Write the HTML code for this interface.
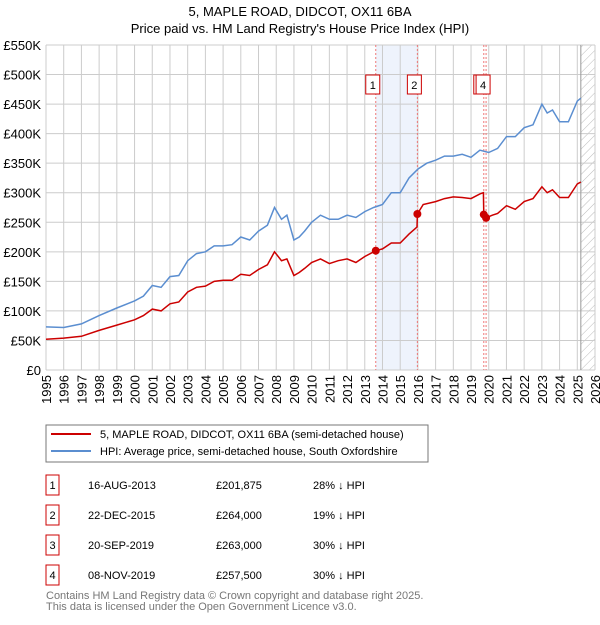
<!DOCTYPE html>
<html><head><meta charset="utf-8"><style>
body{margin:0;background:#fff;font-family:"Liberation Sans","DejaVu Sans",sans-serif;}
svg text{font-family:"Liberation Sans","DejaVu Sans",sans-serif;}
</style></head><body>
<svg id="c" width="600" height="620" xmlns="http://www.w3.org/2000/svg">
<text x="300" y="16" text-anchor="middle" font-size="13">5, MAPLE ROAD, DIDCOT, OX11 6BA</text>
<text x="300" y="33" text-anchor="middle" font-size="13">Price paid vs. HM Land Registry's House Price Index (HPI)</text>
<g id="plot"></g>
<rect x="46" y="425" width="382" height="37" fill="#fff" stroke="#777"/>
<line x1="51" y1="434" x2="91" y2="434" stroke="#cc0000" stroke-width="2"/>
<text x="100" y="438" font-size="11">5, MAPLE ROAD, DIDCOT, OX11 6BA (semi-detached house)</text>
<line x1="51" y1="451" x2="91" y2="451" stroke="#5b8ed0" stroke-width="2"/>
<text x="100" y="455" font-size="11">HPI: Average price, semi-detached house, South Oxfordshire</text>
<g id="table" font-size="11"></g>
<text x="46" y="599" font-size="11" fill="#777">Contains HM Land Registry data © Crown copyright and database right 2025.</text>
<text x="46" y="610" font-size="11" fill="#777">This data is licensed under the Open Government Licence v3.0.</text>
</svg>
<script>
const yTicks=[0,50,100,150,200,250,300,350,400,450,500,550];
const years=[1995,1996,1997,1998,1999,2000,2001,2002,2003,2004,2005,2006,2007,2008,2009,2010,2011,2012,2013,2014,2015,2016,2017,2018,2019,2020,2021,2022,2023,2024,2025,2026];
const hpiT=[1995,1996,1997,1998,1999,2000,2000.5,2001,2001.5,2002,2002.5,2003,2003.5,2004,2004.5,2005,2005.5,2006,2006.5,2007,2007.5,2007.9,2008.3,2008.6,2009,2009.3,2009.6,2010,2010.5,2011,2011.5,2012,2012.5,2013,2013.5,2014,2014.5,2015,2015.5,2016,2016.5,2017,2017.5,2018,2018.5,2019,2019.5,2020,2020.5,2021,2021.5,2022,2022.5,2023,2023.3,2023.6,2024,2024.5,2025,2025.2];
const hpiV=[73,72,78,92,105,117,125,143,140,158,160,185,197,200,210,210,212,225,220,235,245,275,255,262,220,225,235,250,262,255,255,262,258,268,275,280,300,300,325,340,350,355,362,362,365,360,372,368,375,395,395,410,415,450,435,440,420,420,455,460];
const propT=[1995,1996,1997,1998,1999,2000,2000.5,2001,2001.5,2002,2002.5,2003,2003.5,2004,2004.5,2005,2005.5,2006,2006.5,2007,2007.5,2007.9,2008.3,2008.6,2009,2009.3,2009.6,2010,2010.5,2011,2011.5,2012,2012.5,2013,2013.62,2014,2014.5,2015,2015.5,2015.95,2015.97,2016.3,2017,2017.5,2018,2018.5,2019,2019.5,2019.7,2019.72,2019.85,2020.2,2020.5,2021,2021.5,2022,2022.5,2023,2023.3,2023.6,2024,2024.5,2025,2025.2];
const propV=[52,54,57,67,76,85,92,103,100,112,115,132,140,142,150,152,152,162,160,170,178,200,185,188,160,165,172,182,188,180,185,188,182,192,201.9,205,215,215,230,242,264,280,285,290,293,292,290,298,300,263,257.5,262,265,278,272,285,290,310,300,305,292,292,315,318];
const saleLabels=["1","2","3","4"];
const saleT=[2013.62,2015.97,2019.72,2019.85];
const saleV=[201.875,264,263,257.5];
const saleDates=["16-AUG-2013","22-DEC-2015","20-SEP-2019","08-NOV-2019"];
const salePrices=["£201,875","£264,000","£263,000","£257,500"];
const saleDiff=["28% ↓ HPI","19% ↓ HPI","30% ↓ HPI","30% ↓ HPI"];
const NS="http://www.w3.org/2000/svg";
const L=46,R=595,T=45,B=370;
const X=t=>L+(t-1995)/(2026-1995)*(R-L);
const Y=v=>B-v/550*(B-T);
function mk(tag,attrs,parent){const e=document.createElementNS(NS,tag);for(const k in attrs)e.setAttribute(k,attrs[k]);parent.appendChild(e);return e;}
const g=document.getElementById('plot');
let sh=mk('rect',{x:X(saleT[0]),y:T,width:X(saleT[1])-X(saleT[0]),height:B-T,fill:'#eef3fc'},g);


const defs=mk('defs',{},g);
const pat=mk('pattern',{id:'h',width:6,height:6,patternUnits:'userSpaceOnUse',patternTransform:'rotate(45)'},defs);
mk('line',{x1:0,y1:0,x2:0,y2:6,stroke:'#bbb','stroke-width':1},pat);
let ht=mk('rect',{x:X(2025.2),y:T,width:R-X(2025.2),height:B-T,fill:'url(#h)'},g);


yTicks.forEach(v=>{
  let l=mk('line',{x1:L,x2:R,y1:Y(v),y2:Y(v),stroke:'#ccc'},g);
  
  
  let t=mk('text',{x:L-5,y:Y(v)+5,'text-anchor':'end','font-size':13},g);
  t.textContent=v===0?'£0':'£'+v+'K';
  
  
});
years.forEach(yr=>{
  let l=mk('line',{x1:X(yr),x2:X(yr),y1:T,y2:B,stroke:'#ccc'},g);
  
  
  let t=mk('text',{x:0,y:0,'text-anchor':'end','font-size':13,transform:`translate(${X(yr)+5},${B+5}) rotate(-90)`},g);
  t.textContent=yr;
  
  
});
let ax=mk('line',{x1:X(2025.2),x2:X(2025.2),y1:T,y2:B,stroke:'#999'},g);


saleT.forEach((t,i)=>{
  let l=mk('line',{x1:X(t),x2:X(t),y1:T,y2:B,stroke:'#ee7777','stroke-dasharray':'2,2'},g);
  
  
});
function path(ts,vs,col,name){
  let d=ts.map((t,i)=>(i?'L':'M')+X(t).toFixed(1)+','+Y(vs[i]).toFixed(1)).join('');
  let p=mk('path',{d:d,fill:'none',stroke:col,'stroke-width':1.5},g);
  
  
}
path(hpiT,hpiV,'#5b8ed0','hpi-line');
path(propT,propV,'#cc0000','property-line');
saleT.forEach((t,i)=>{
  let c=mk('circle',{cx:X(t),cy:Y(saleV[i]),r:4,fill:'#cc0000'},g);
  
  
});
[0,1,2,3].forEach(i=>{
  let bx=X(saleT[i])-10;
  let r=mk('rect',{x:bx,y:75,width:14,height:19,fill:'#fff',stroke:'#cc0000'},g);
  
  
  let t=mk('text',{x:bx+7,y:89,'text-anchor':'middle','font-size':11},g);
  t.textContent=saleLabels[i];
  
  
});
const tb=document.getElementById('table');
saleLabels.forEach((s,i)=>{
  const y=475+i*30;
  let r=mk('rect',{x:46,y:y,width:13,height:20,fill:'#fff',stroke:'#cc0000'},tb);
  
  
  let vals=[[52.5,s,'middle'],[88,saleDates[i],'start'],[216,salePrices[i],'start'],[313,saleDiff[i],'start']];
  vals.forEach(v=>{
    let t=mk('text',{x:v[0],y:y+14,'text-anchor':v[2]},tb);
    t.textContent=v[1];
    
    
  });
});
</script>
</body></html>
